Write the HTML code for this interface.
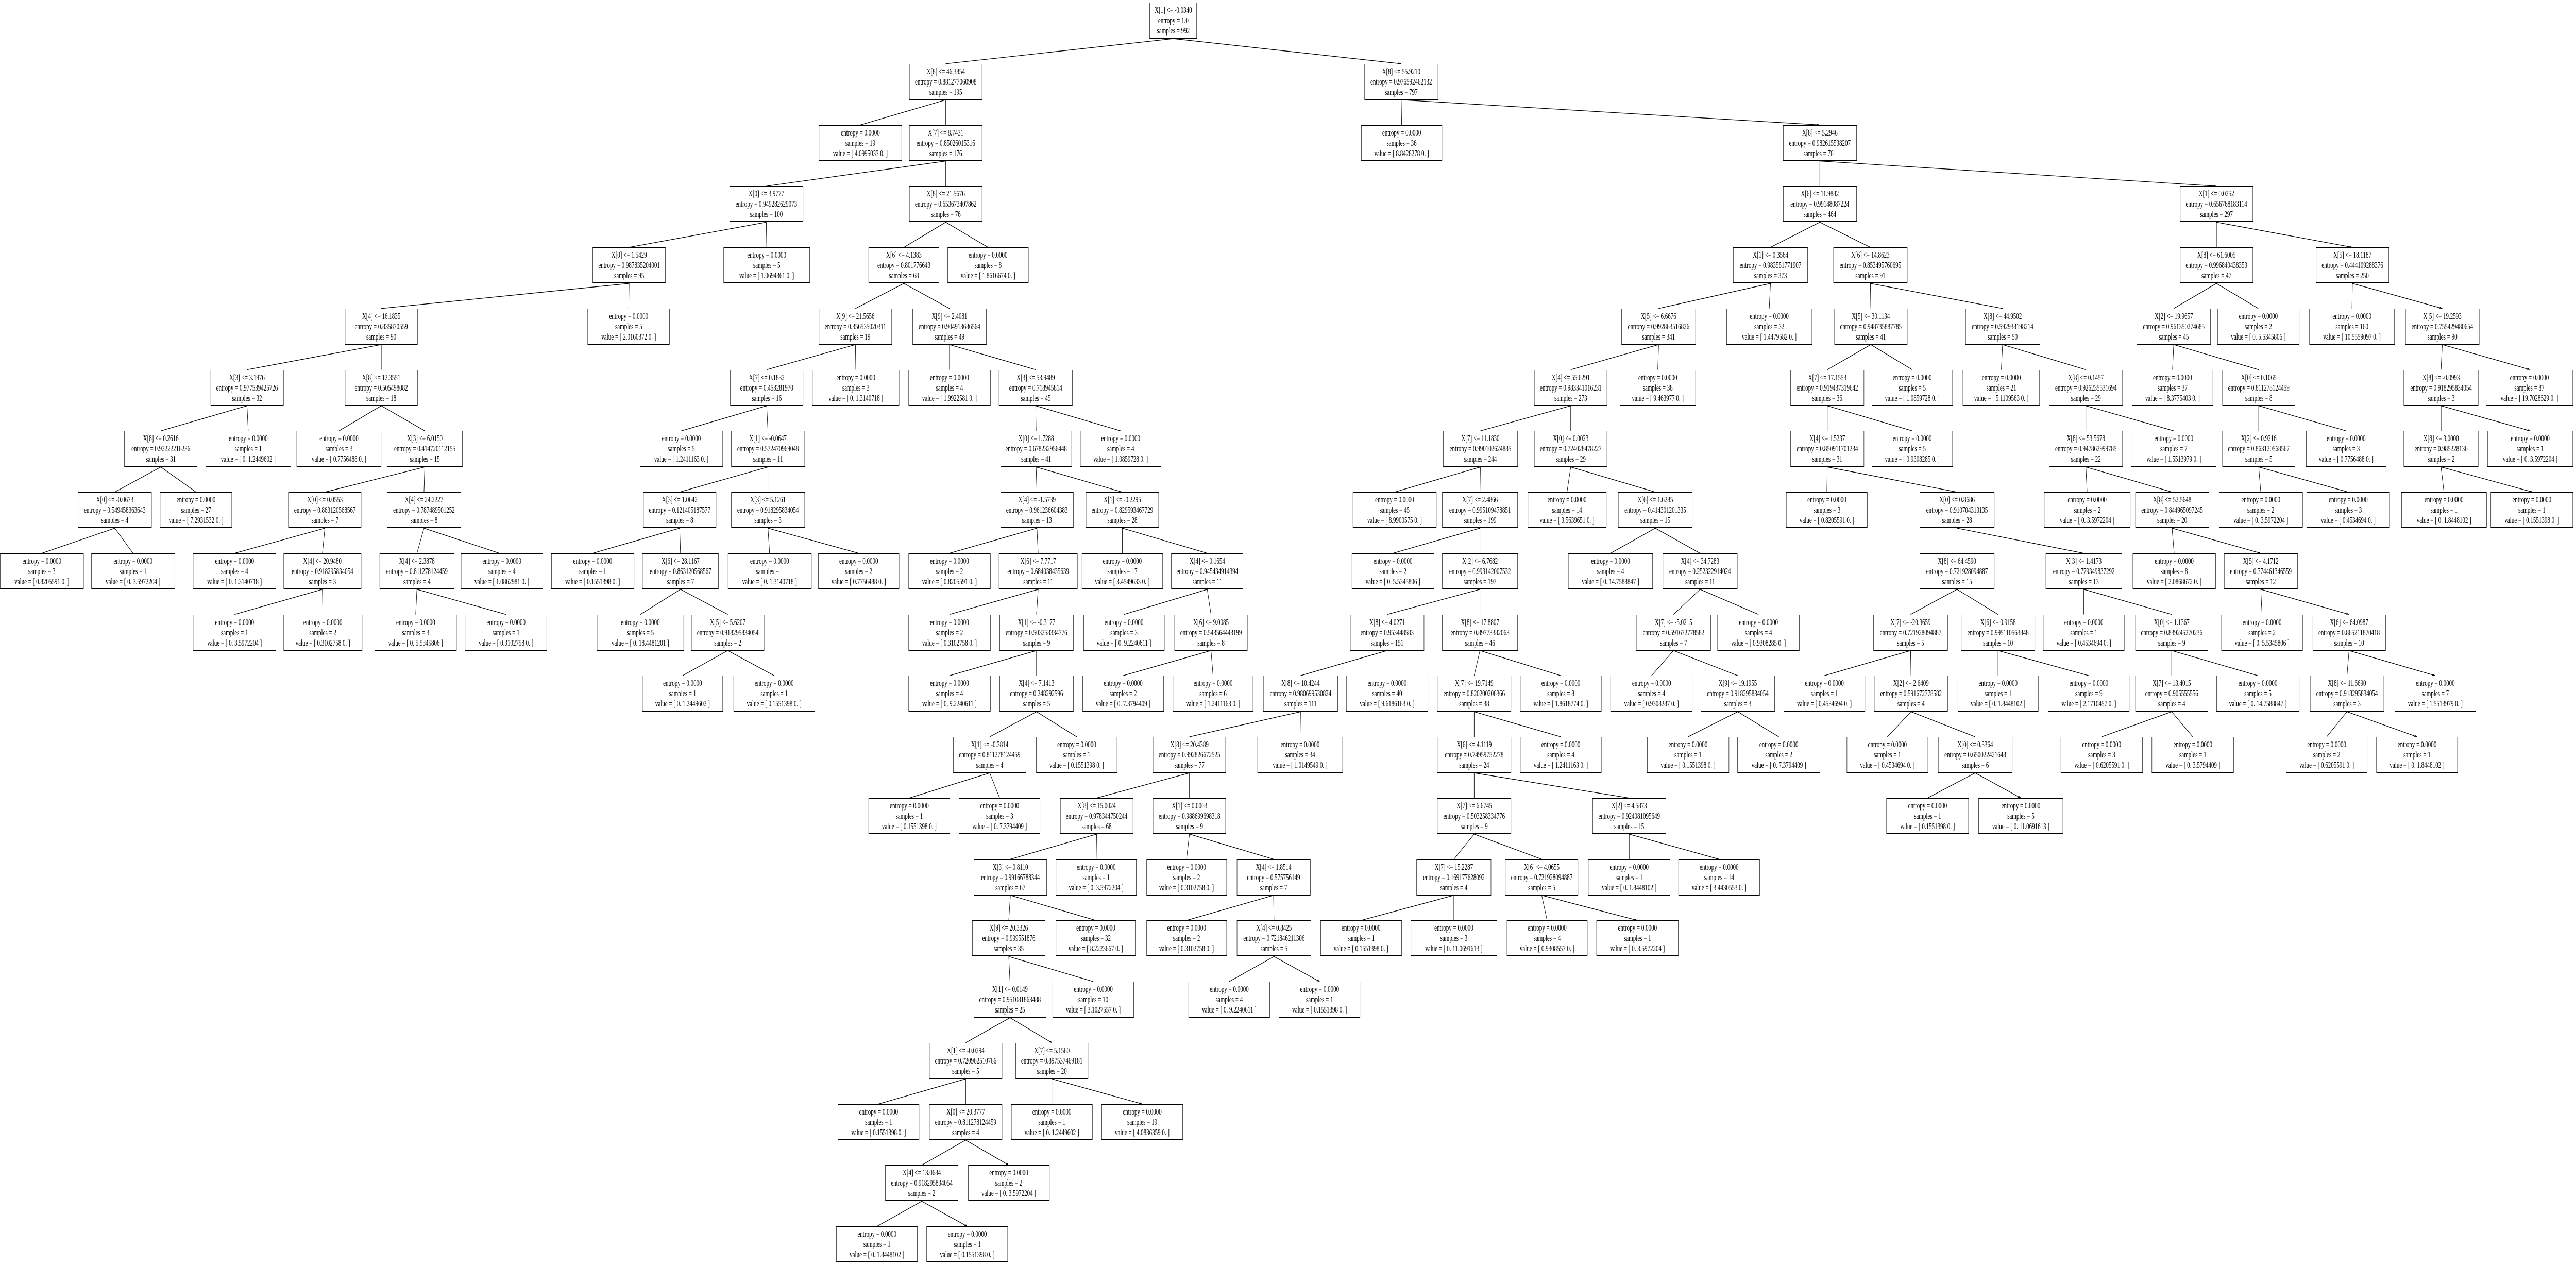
<!DOCTYPE html>
<html><head><meta charset="utf-8"><style>
html,body{margin:0;padding:0;background:#fff;width:100%;height:100%;overflow:hidden;}
#outer{display:block;position:absolute;left:0;top:0;width:100vw;height:100vh;}
#c{position:relative;width:7729px;height:2455px;overflow:hidden;background:#fff;}
#c svg{position:absolute;left:0;top:0;}
.n{position:absolute;left:calc(var(--a) * 2.487px);width:calc((var(--b) - var(--a)) * 2.487px);top:calc(var(--r) * 118.75px + 5px);height:70px;box-sizing:border-box;border:1.3px solid #000;border-bottom-width:2px;border-right-width:1.6px;background:#fff;font-family:"Liberation Serif",serif;font-size:17px;line-height:20px;text-align:center;white-space:nowrap;padding-top:4px;color:#000;overflow:hidden;}
</style></head><body>
<svg id="outer" viewBox="0 0 7729 2455" preserveAspectRatio="none" xmlns="http://www.w3.org/2000/svg"><foreignObject x="0" y="0" width="7729" height="2455"><div xmlns="http://www.w3.org/1999/xhtml" id="c">
<svg width="7729" height="2455" viewBox="0 0 3107.8 2455" preserveAspectRatio="none">
<defs><marker id="ah" markerUnits="userSpaceOnUse" viewBox="0 0 10 10" markerWidth="10" markerHeight="3.6" refX="10" refY="5" orient="auto"><path d="M0,0 L10,5 L0,10 z" fill="#000"/></marker></defs>
<g stroke="#000" stroke-width="1.3" fill="none" marker-end="url(#ah)">
<path vector-effect="non-scaling-stroke" d="M1415.5,75L1141,123.75M1415.5,75L1690.5,123.75"/>
<path vector-effect="non-scaling-stroke" d="M1141,193.75L1038,242.5M1141,193.75L1141,242.5M1690.5,193.75L1691,242.5M1690.5,193.75L2195.5,242.5"/>
<path vector-effect="non-scaling-stroke" d="M1141,312.5L924.5,361.25M1141,312.5L1141,361.25M2195.5,312.5L2195.5,361.25M2195.5,312.5L2674,361.25"/>
<path vector-effect="non-scaling-stroke" d="M924.5,431.25L759,480M924.5,431.25L925,480M1141,431.25L1090.5,480M1141,431.25L1192,480M2195.5,431.25L2136,480M2195.5,431.25L2256.5,480M2674,431.25L2674,480M2674,431.25L2838,480"/>
<path vector-effect="non-scaling-stroke" d="M759,550L460,598.75M759,550L758.5,598.75M1090.5,550L1032,598.75M1090.5,550L1145.5,598.75M2136,550L2001,598.75M2136,550L2134.5,598.75M2256.5,550L2257,598.75M2256.5,550L2416,598.75M2674,550L2622.5,598.75M2674,550L2724.5,598.75M2838,550L2837.5,598.75M2838,550L2946.5,598.75"/>
<path vector-effect="non-scaling-stroke" d="M460,668.75L298,717.5M460,668.75L460,717.5M1032,668.75L925,717.5M1032,668.75L1032.5,717.5M1145.5,668.75L1145.5,717.5M1145.5,668.75L1249.5,717.5M2001,668.75L1895,717.5M2001,668.75L2000,717.5M2257,668.75L2204.5,717.5M2257,668.75L2307,717.5M2416,668.75L2414.5,717.5M2416,668.75L2516.5,717.5M2622.5,668.75L2621,717.5M2622.5,668.75L2725,717.5M2946.5,668.75L2945,717.5M2946.5,668.75L3052.5,717.5"/>
<path vector-effect="non-scaling-stroke" d="M298,787.5L194,836.25M298,787.5L299.5,836.25M460,787.5L409,836.25M460,787.5L512.5,836.25M925,787.5L822,836.25M925,787.5L926.5,836.25M1249.5,787.5L1250,836.25M1249.5,787.5L1352,836.25M1895,787.5L1786,836.25M1895,787.5L1895,836.25M2204.5,787.5L2204.5,836.25M2204.5,787.5L2307,836.25M2516.5,787.5L2516.5,836.25M2516.5,787.5L2622.5,836.25M2725,787.5L2725,836.25M2725,787.5L2830.5,836.25M2945,787.5L2945,836.25M2945,787.5L3052.5,836.25"/>
<path vector-effect="non-scaling-stroke" d="M194,906.25L138.5,955M194,906.25L236.5,955M512.5,906.25L392,955M512.5,906.25L511.5,955M926.5,906.25L820,955M926.5,906.25L926.5,955M1250,906.25L1251,955M1250,906.25L1354,955M1786,906.25L1682.5,955M1786,906.25L1785.5,955M1895,906.25L1890.5,955M1895,906.25L1997,955M2204.5,906.25L2204,955M2204.5,906.25L2361,955M2516.5,906.25L2518,955M2516.5,906.25L2620.5,955M2725,906.25L2727.5,955M2725,906.25L2833,955M2945,906.25L2948.5,955M2945,906.25L3055.5,955"/>
<path vector-effect="non-scaling-stroke" d="M138.5,1025L50.5,1073.75M138.5,1025L160.5,1073.75M392,1025L283,1073.75M392,1025L389,1073.75M511.5,1025L503,1073.75M511.5,1025L602.5,1073.75M820,1025L715,1073.75M820,1025L821,1073.75M926.5,1025L928.5,1073.75M926.5,1025L1036,1073.75M1251,1025L1145.5,1073.75M1251,1025L1252.5,1073.75M1354,1025L1354,1073.75M1354,1025L1456.5,1073.75M1785.5,1025L1680.5,1073.75M1785.5,1025L1785.5,1073.75M1997,1025L1943,1073.75M1997,1025L2051,1073.75M2361,1025L2361,1073.75M2361,1025L2514,1073.75M2620.5,1025L2623,1073.75M2620.5,1025L2727.5,1073.75"/>
<path vector-effect="non-scaling-stroke" d="M389,1143.75L283,1192.5M389,1143.75L389.5,1192.5M503,1143.75L501.5,1192.5M503,1143.75L610.5,1192.5M821,1143.75L772.5,1192.5M821,1143.75L878,1192.5M1252.5,1143.75L1145.5,1192.5M1252.5,1143.75L1250.5,1192.5M1456.5,1143.75L1356,1192.5M1456.5,1143.75L1461,1192.5M1785.5,1143.75L1673.5,1192.5M1785.5,1143.75L1785.5,1192.5M2051,1143.75L2019,1192.5M2051,1143.75L2121.5,1192.5M2361,1143.75L2305,1192.5M2361,1143.75L2410.5,1192.5M2514,1143.75L2514,1192.5M2514,1143.75L2620,1192.5M2727.5,1143.75L2729,1192.5M2727.5,1143.75L2834,1192.5"/>
<path vector-effect="non-scaling-stroke" d="M878,1262.5L823.5,1311.25M878,1262.5L934,1311.25M1250.5,1262.5L1145.5,1311.25M1250.5,1262.5L1250.5,1311.25M1461,1262.5L1355,1311.25M1461,1262.5L1463.5,1311.25M1673.5,1262.5L1569,1311.25M1673.5,1262.5L1673.5,1311.25M1785.5,1262.5L1778.5,1311.25M1785.5,1262.5L1883,1311.25M2019,1262.5L1992.5,1311.25M2019,1262.5L2096.5,1311.25M2305,1262.5L2201,1311.25M2305,1262.5L2305.5,1311.25M2410.5,1262.5L2410.5,1311.25M2410.5,1262.5L2520,1311.25M2620,1262.5L2620,1311.25M2620,1262.5L2724,1311.25M2834,1262.5L2831.5,1311.25M2834,1262.5L2938,1311.25"/>
<path vector-effect="non-scaling-stroke" d="M1250.5,1381.25L1194,1430M1250.5,1381.25L1299,1430M1569,1381.25L1435,1430M1569,1381.25L1568.5,1430M1778.5,1381.25L1778.5,1430M1778.5,1381.25L1883,1430M2096.5,1381.25L2036.5,1430M2096.5,1381.25L2146,1430M2305.5,1381.25L2277,1430M2305.5,1381.25L2383,1430M2620,1381.25L2535.5,1430M2620,1381.25L2645.5,1430M2831.5,1381.25L2807,1430M2831.5,1381.25L2916,1430"/>
<path vector-effect="non-scaling-stroke" d="M1194,1500L1097,1548.75M1194,1500L1206,1548.75M1435,1500L1323,1548.75M1435,1500L1435,1548.75M1778.5,1500L1778.5,1548.75M1778.5,1500L1965.5,1548.75M2383,1500L2325.5,1548.75M2383,1500L2438,1548.75"/>
<path vector-effect="non-scaling-stroke" d="M1323,1618.75L1219,1667.5M1323,1618.75L1322.5,1667.5M1435,1618.75L1431.5,1667.5M1435,1618.75L1536.5,1667.5M1778.5,1618.75L1754,1667.5M1778.5,1618.75L1860,1667.5M1965.5,1618.75L1965.5,1667.5M1965.5,1618.75L2074,1667.5"/>
<path vector-effect="non-scaling-stroke" d="M1219,1737.5L1217,1786.25M1219,1737.5L1322,1786.25M1536.5,1737.5L1431.5,1786.25M1536.5,1737.5L1537,1786.25M1754,1737.5L1642,1786.25M1754,1737.5L1754,1786.25M1860,1737.5L1866.5,1786.25M1860,1737.5L1975.5,1786.25"/>
<path vector-effect="non-scaling-stroke" d="M1217,1856.25L1218.5,1905M1217,1856.25L1319,1905M1537,1856.25L1483,1905M1537,1856.25L1592,1905"/>
<path vector-effect="non-scaling-stroke" d="M1218.5,1975L1165,2023.75M1218.5,1975L1269,2023.75"/>
<path vector-effect="non-scaling-stroke" d="M1165,2093.75L1060,2142.5M1165,2093.75L1165,2142.5M1269,2093.75L1269,2142.5M1269,2093.75L1378,2142.5"/>
<path vector-effect="non-scaling-stroke" d="M1165,2212.5L1112,2261.25M1165,2212.5L1217,2261.25"/>
<path vector-effect="non-scaling-stroke" d="M1112,2331.25L1058,2380M1112,2331.25L1167,2380"/>
</g></svg>

<div class="n" style="--a:1387;--b:1444;--r:0">X[1] &lt;= -0.0340<br/>entropy = 1.0<br/>samples = 992</div>
<div class="n" style="--a:1097;--b:1185;--r:1">X[8] &lt;= 46.3854<br/>entropy = 0.881277060908<br/>samples = 195</div>
<div class="n" style="--a:1646;--b:1735;--r:1">X[8] &lt;= 55.9210<br/>entropy = 0.976592462132<br/>samples = 797</div>

<div class="n" style="--a:988;--b:1088;--r:2">entropy = 0.0000<br/>samples = 19<br/>value = [ 4.0995033  0. ]</div>
<div class="n" style="--a:1097;--b:1185;--r:2">X[7] &lt;= 8.7431<br/>entropy = 0.85026015316<br/>samples = 176</div>
<div class="n" style="--a:1642;--b:1740;--r:2">entropy = 0.0000<br/>samples = 36<br/>value = [ 8.8428278  0. ]</div>
<div class="n" style="--a:2151;--b:2240;--r:2">X[8] &lt;= 5.2946<br/>entropy = 0.982615538207<br/>samples = 761</div>

<div class="n" style="--a:880;--b:969;--r:3">X[0] &lt;= 3.9777<br/>entropy = 0.949282629073<br/>samples = 100</div>
<div class="n" style="--a:1097;--b:1185;--r:3">X[8] &lt;= 21.5676<br/>entropy = 0.653673407862<br/>samples = 76</div>
<div class="n" style="--a:2151;--b:2240;--r:3">X[6] &lt;= 11.9882<br/>entropy = 0.99148087224<br/>samples = 464</div>
<div class="n" style="--a:2630;--b:2718;--r:3">X[1] &lt;= 0.0252<br/>entropy = 0.656768183114<br/>samples = 297</div>

<div class="n" style="--a:715;--b:803;--r:4">X[0] &lt;= 1.5429<br/>entropy = 0.987835204001<br/>samples = 95</div>
<div class="n" style="--a:873;--b:977;--r:4">entropy = 0.0000<br/>samples = 5<br/>value = [ 1.0694361  0. ]</div>
<div class="n" style="--a:1048;--b:1133;--r:4">X[6] &lt;= 4.1383<br/>entropy = 0.801776643<br/>samples = 68</div>
<div class="n" style="--a:1143;--b:1241;--r:4">entropy = 0.0000<br/>samples = 8<br/>value = [ 1.8616674  0. ]</div>
<div class="n" style="--a:2091;--b:2181;--r:4">X[1] &lt;= 0.3564<br/>entropy = 0.983551771907<br/>samples = 373</div>
<div class="n" style="--a:2212;--b:2301;--r:4">X[6] &lt;= 14.8623<br/>entropy = 0.853495760695<br/>samples = 91</div>
<div class="n" style="--a:2630;--b:2718;--r:4">X[8] &lt;= 61.6005<br/>entropy = 0.996840438353<br/>samples = 47</div>
<div class="n" style="--a:2794;--b:2882;--r:4">X[5] &lt;= 18.1187<br/>entropy = 0.444109288376<br/>samples = 250</div>

<div class="n" style="--a:416;--b:504;--r:5">X[4] &lt;= 16.1835<br/>entropy = 0.835870559<br/>samples = 90</div>
<div class="n" style="--a:709;--b:808;--r:5">entropy = 0.0000<br/>samples = 5<br/>value = [ 2.0160372  0. ]</div>
<div class="n" style="--a:988;--b:1076;--r:5">X[9] &lt;= 21.5656<br/>entropy = 0.356535020311<br/>samples = 19</div>
<div class="n" style="--a:1101;--b:1190;--r:5">X[9] &lt;= 2.4081<br/>entropy = 0.904913686564<br/>samples = 49</div>
<div class="n" style="--a:1956;--b:2046;--r:5">X[5] &lt;= 6.6676<br/>entropy = 0.992863516826<br/>samples = 341</div>
<div class="n" style="--a:2083;--b:2186;--r:5">entropy = 0.0000<br/>samples = 32<br/>value = [ 1.4479582  0. ]</div>
<div class="n" style="--a:2213;--b:2301;--r:5">X[5] &lt;= 30.1134<br/>entropy = 0.948735887785<br/>samples = 41</div>
<div class="n" style="--a:2371;--b:2461;--r:5">X[8] &lt;= 44.9502<br/>entropy = 0.592938198214<br/>samples = 50</div>
<div class="n" style="--a:2578;--b:2667;--r:5">X[2] &lt;= 19.9657<br/>entropy = 0.961350274685<br/>samples = 45</div>
<div class="n" style="--a:2675;--b:2774;--r:5">entropy = 0.0000<br/>samples = 2<br/>value = [ 0.  5.5345806 ]</div>
<div class="n" style="--a:2786;--b:2889;--r:5">entropy = 0.0000<br/>samples = 160<br/>value = [ 10.5559097  0. ]</div>
<div class="n" style="--a:2902;--b:2991;--r:5">X[5] &lt;= 19.2593<br/>entropy = 0.755429480654<br/>samples = 90</div>

<div class="n" style="--a:254;--b:342;--r:6">X[3] &lt;= 3.1976<br/>entropy = 0.977539425726<br/>samples = 32</div>
<div class="n" style="--a:416;--b:504;--r:6">X[8] &lt;= 12.3551<br/>entropy = 0.505498082<br/>samples = 18</div>
<div class="n" style="--a:881;--b:969;--r:6">X[7] &lt;= 0.1832<br/>entropy = 0.453281970<br/>samples = 16</div>
<div class="n" style="--a:980;--b:1085;--r:6">entropy = 0.0000<br/>samples = 3<br/>value = [ 0.  1.3140718 ]</div>
<div class="n" style="--a:1096;--b:1195;--r:6">entropy = 0.0000<br/>samples = 4<br/>value = [ 1.9922581  0. ]</div>
<div class="n" style="--a:1205;--b:1294;--r:6">X[3] &lt;= 53.9489<br/>entropy = 0.718945814<br/>samples = 45</div>
<div class="n" style="--a:1851;--b:1939;--r:6">X[4] &lt;= 55.6291<br/>entropy = 0.983341016231<br/>samples = 273</div>
<div class="n" style="--a:1954;--b:2046;--r:6">entropy = 0.0000<br/>samples = 38<br/>value = [ 9.463977  0. ]</div>
<div class="n" style="--a:2160;--b:2249;--r:6">X[7] &lt;= 17.1553<br/>entropy = 0.919437319642<br/>samples = 36</div>
<div class="n" style="--a:2258;--b:2356;--r:6">entropy = 0.0000<br/>samples = 5<br/>value = [ 1.0859728  0. ]</div>
<div class="n" style="--a:2368;--b:2461;--r:6">entropy = 0.0000<br/>samples = 21<br/>value = [ 5.1109563  0. ]</div>
<div class="n" style="--a:2472;--b:2561;--r:6">X[8] &lt;= 0.1457<br/>entropy = 0.926235531694<br/>samples = 29</div>
<div class="n" style="--a:2572;--b:2670;--r:6">entropy = 0.0000<br/>samples = 37<br/>value = [ 8.3775403  0. ]</div>
<div class="n" style="--a:2681;--b:2769;--r:6">X[0] &lt;= 0.1065<br/>entropy = 0.811278124459<br/>samples = 8</div>
<div class="n" style="--a:2900;--b:2990;--r:6">X[8] &lt;= -0.0993<br/>entropy = 0.918295834054<br/>samples = 3</div>
<div class="n" style="--a:2999;--b:3104;--r:6">entropy = 0.0000<br/>samples = 87<br/>value = [ 19.7028629  0. ]</div>

<div class="n" style="--a:150;--b:238;--r:7">X[8] &lt;= 0.2616<br/>entropy = 0.92222216236<br/>samples = 31</div>
<div class="n" style="--a:248;--b:351;--r:7">entropy = 0.0000<br/>samples = 1<br/>value = [ 0.  1.2449602 ]</div>
<div class="n" style="--a:358;--b:460;--r:7">entropy = 0.0000<br/>samples = 3<br/>value = [ 0.7756488  0. ]</div>
<div class="n" style="--a:467;--b:558;--r:7">X[3] &lt;= 6.0150<br/>entropy = 0.414720112155<br/>samples = 15</div>
<div class="n" style="--a:772;--b:872;--r:7">entropy = 0.0000<br/>samples = 5<br/>value = [ 1.2411163  0. ]</div>
<div class="n" style="--a:882;--b:971;--r:7">X[1] &lt;= -0.0647<br/>entropy = 0.572470969048<br/>samples = 11</div>
<div class="n" style="--a:1207;--b:1293;--r:7">X[0] &lt;= 1.7288<br/>entropy = 0.678232956448<br/>samples = 41</div>
<div class="n" style="--a:1303;--b:1401;--r:7">entropy = 0.0000<br/>samples = 4<br/>value = [ 1.0859728  0. ]</div>
<div class="n" style="--a:1741;--b:1831;--r:7">X[7] &lt;= 11.1830<br/>entropy = 0.990102624885<br/>samples = 244</div>
<div class="n" style="--a:1851;--b:1939;--r:7">X[0] &lt;= 0.0023<br/>entropy = 0.724028478227<br/>samples = 29</div>
<div class="n" style="--a:2160;--b:2249;--r:7">X[4] &lt;= 1.5237<br/>entropy = 0.850911701234<br/>samples = 31</div>
<div class="n" style="--a:2258;--b:2356;--r:7">entropy = 0.0000<br/>samples = 5<br/>value = [ 0.9308285  0. ]</div>
<div class="n" style="--a:2472;--b:2561;--r:7">X[8] &lt;= 53.5678<br/>entropy = 0.947862999785<br/>samples = 22</div>
<div class="n" style="--a:2571;--b:2674;--r:7">entropy = 0.0000<br/>samples = 7<br/>value = [ 1.5513979  0. ]</div>
<div class="n" style="--a:2681;--b:2769;--r:7">X[2] &lt;= 0.9216<br/>entropy = 0.863120568567<br/>samples = 5</div>
<div class="n" style="--a:2782;--b:2879;--r:7">entropy = 0.0000<br/>samples = 3<br/>value = [ 0.7756488  0. ]</div>
<div class="n" style="--a:2900;--b:2990;--r:7">X[8] &lt;= 3.0000<br/>entropy = 0.985228136<br/>samples = 2</div>
<div class="n" style="--a:3001;--b:3104;--r:7">entropy = 0.0000<br/>samples = 1<br/>value = [ 0.  3.5972204 ]</div>

<div class="n" style="--a:94;--b:183;--r:8">X[0] &lt;= -0.0673<br/>entropy = 0.549458363643<br/>samples = 4</div>
<div class="n" style="--a:193;--b:280;--r:8">entropy = 0.0000<br/>samples = 27<br/>value = [ 7.2931532  0. ]</div>
<div class="n" style="--a:348;--b:436;--r:8">X[0] &lt;= 0.0553<br/>entropy = 0.863120568567<br/>samples = 7</div>
<div class="n" style="--a:467;--b:556;--r:8">X[4] &lt;= 24.2227<br/>entropy = 0.787489501252<br/>samples = 8</div>
<div class="n" style="--a:776;--b:864;--r:8">X[3] &lt;= 1.0642<br/>entropy = 0.121405187577<br/>samples = 8</div>
<div class="n" style="--a:882;--b:971;--r:8">X[3] &lt;= 5.1261<br/>entropy = 0.918295834054<br/>samples = 3</div>
<div class="n" style="--a:1207;--b:1295;--r:8">X[4] &lt;= -1.5739<br/>entropy = 0.961236604383<br/>samples = 13</div>
<div class="n" style="--a:1310;--b:1398;--r:8">X[1] &lt;= -0.2295<br/>entropy = 0.829593467729<br/>samples = 28</div>
<div class="n" style="--a:1632;--b:1733;--r:8">entropy = 0.0000<br/>samples = 45<br/>value = [ 8.9900575  0. ]</div>
<div class="n" style="--a:1740;--b:1831;--r:8">X[7] &lt;= 2.4866<br/>entropy = 0.995109478851<br/>samples = 199</div>
<div class="n" style="--a:1843;--b:1938;--r:8">entropy = 0.0000<br/>samples = 14<br/>value = [ 3.5639651  0. ]</div>
<div class="n" style="--a:1952;--b:2042;--r:8">X[6] &lt;= 1.6285<br/>entropy = 0.414301201335<br/>samples = 15</div>
<div class="n" style="--a:2155;--b:2253;--r:8">entropy = 0.0000<br/>samples = 3<br/>value = [ 0.8205591  0. ]</div>
<div class="n" style="--a:2316;--b:2406;--r:8">X[0] &lt;= 0.8686<br/>entropy = 0.910704313135<br/>samples = 28</div>
<div class="n" style="--a:2466;--b:2570;--r:8">entropy = 0.0000<br/>samples = 2<br/>value = [ 0.  3.5972204 ]</div>
<div class="n" style="--a:2576;--b:2665;--r:8">X[8] &lt;= 52.5648<br/>entropy = 0.844965097245<br/>samples = 20</div>
<div class="n" style="--a:2677;--b:2778;--r:8">entropy = 0.0000<br/>samples = 2<br/>value = [ 0.  3.5972204 ]</div>
<div class="n" style="--a:2783;--b:2883;--r:8">entropy = 0.0000<br/>samples = 3<br/>value = [ 0.4534694  0. ]</div>
<div class="n" style="--a:2897;--b:3000;--r:8">entropy = 0.0000<br/>samples = 1<br/>value = [ 0.  1.8448102 ]</div>
<div class="n" style="--a:3005;--b:3104;--r:8">entropy = 0.0000<br/>samples = 1<br/>value = [ 0.1551398  0. ]</div>

<div class="n" style="--a:0;--b:101;--r:9">entropy = 0.0000<br/>samples = 3<br/>value = [ 0.8205591  0. ]</div>
<div class="n" style="--a:110;--b:211;--r:9">entropy = 0.0000<br/>samples = 1<br/>value = [ 0.  3.5972204 ]</div>
<div class="n" style="--a:233;--b:333;--r:9">entropy = 0.0000<br/>samples = 4<br/>value = [ 0.  1.3140718 ]</div>
<div class="n" style="--a:342;--b:436;--r:9">X[4] &lt;= 20.9480<br/>entropy = 0.918295834054<br/>samples = 3</div>
<div class="n" style="--a:458;--b:548;--r:9">X[4] &lt;= 2.3878<br/>entropy = 0.811278124459<br/>samples = 4</div>
<div class="n" style="--a:556;--b:655;--r:9">entropy = 0.0000<br/>samples = 4<br/>value = [ 1.0862981  0. ]</div>
<div class="n" style="--a:665;--b:765;--r:9">entropy = 0.0000<br/>samples = 1<br/>value = [ 0.1551398  0. ]</div>
<div class="n" style="--a:775;--b:867;--r:9">X[6] &lt;= 28.1167<br/>entropy = 0.863120568567<br/>samples = 7</div>
<div class="n" style="--a:878;--b:979;--r:9">entropy = 0.0000<br/>samples = 1<br/>value = [ 0.  1.3140718 ]</div>
<div class="n" style="--a:987;--b:1085;--r:9">entropy = 0.0000<br/>samples = 2<br/>value = [ 0.7756488  0. ]</div>
<div class="n" style="--a:1096;--b:1195;--r:9">entropy = 0.0000<br/>samples = 2<br/>value = [ 0.8205591  0. ]</div>
<div class="n" style="--a:1205;--b:1300;--r:9">X[6] &lt;= 7.7717<br/>entropy = 0.684038435639<br/>samples = 11</div>
<div class="n" style="--a:1305;--b:1403;--r:9">entropy = 0.0000<br/>samples = 17<br/>value = [ 3.4549633  0. ]</div>
<div class="n" style="--a:1413;--b:1500;--r:9">X[4] &lt;= 0.1654<br/>entropy = 0.945434914394<br/>samples = 11</div>
<div class="n" style="--a:1631;--b:1730;--r:9">entropy = 0.0000<br/>samples = 2<br/>value = [ 0.  5.5345806 ]</div>
<div class="n" style="--a:1740;--b:1831;--r:9">X[2] &lt;= 6.7682<br/>entropy = 0.993142007532<br/>samples = 197</div>
<div class="n" style="--a:1892;--b:1994;--r:9">entropy = 0.0000<br/>samples = 4<br/>value = [ 0.  14.7588847 ]</div>
<div class="n" style="--a:2006;--b:2096;--r:9">X[4] &lt;= 34.7283<br/>entropy = 0.252322914024<br/>samples = 11</div>
<div class="n" style="--a:2316;--b:2406;--r:9">X[8] &lt;= 64.4590<br/>entropy = 0.721928094887<br/>samples = 15</div>
<div class="n" style="--a:2468;--b:2560;--r:9">X[3] &lt;= 1.4173<br/>entropy = 0.779349837292<br/>samples = 13</div>
<div class="n" style="--a:2573;--b:2673;--r:9">entropy = 0.0000<br/>samples = 8<br/>value = [ 2.0868672  0. ]</div>
<div class="n" style="--a:2683;--b:2772;--r:9">X[5] &lt;= 4.1712<br/>entropy = 0.774461346559<br/>samples = 12</div>

<div class="n" style="--a:233;--b:333;--r:10">entropy = 0.0000<br/>samples = 1<br/>value = [ 0.  3.5972204 ]</div>
<div class="n" style="--a:342;--b:437;--r:10">entropy = 0.0000<br/>samples = 2<br/>value = [ 0.3102758  0. ]</div>
<div class="n" style="--a:452;--b:551;--r:10">entropy = 0.0000<br/>samples = 3<br/>value = [ 0.  5.5345806 ]</div>
<div class="n" style="--a:561;--b:660;--r:10">entropy = 0.0000<br/>samples = 1<br/>value = [ 0.3102758  0. ]</div>
<div class="n" style="--a:720;--b:825;--r:10">entropy = 0.0000<br/>samples = 5<br/>value = [ 0.  18.4481201 ]</div>
<div class="n" style="--a:834;--b:922;--r:10">X[5] &lt;= 5.6207<br/>entropy = 0.918295834054<br/>samples = 2</div>
<div class="n" style="--a:1096;--b:1195;--r:10">entropy = 0.0000<br/>samples = 2<br/>value = [ 0.3102758  0. ]</div>
<div class="n" style="--a:1206;--b:1295;--r:10">X[1] &lt;= -0.3177<br/>entropy = 0.503258334776<br/>samples = 9</div>
<div class="n" style="--a:1307;--b:1405;--r:10">entropy = 0.0000<br/>samples = 3<br/>value = [ 0.  9.2240611 ]</div>
<div class="n" style="--a:1417;--b:1505;--r:10">X[6] &lt;= 9.0085<br/>entropy = 0.543564443199<br/>samples = 8</div>
<div class="n" style="--a:1629;--b:1718;--r:10">X[8] &lt;= 4.0271<br/>entropy = 0.953448583<br/>samples = 151</div>
<div class="n" style="--a:1740;--b:1831;--r:10">X[8] &lt;= 17.8807<br/>entropy = 0.89773382063<br/>samples = 46</div>
<div class="n" style="--a:1974;--b:2064;--r:10">X[7] &lt;= -5.0215<br/>entropy = 0.591672778582<br/>samples = 7</div>
<div class="n" style="--a:2072;--b:2171;--r:10">entropy = 0.0000<br/>samples = 4<br/>value = [ 0.9308285  0. ]</div>
<div class="n" style="--a:2260;--b:2350;--r:10">X[7] &lt;= -20.3659<br/>entropy = 0.721928094887<br/>samples = 5</div>
<div class="n" style="--a:2366;--b:2455;--r:10">X[6] &lt;= 0.9158<br/>entropy = 0.995110563848<br/>samples = 10</div>
<div class="n" style="--a:2465;--b:2563;--r:10">entropy = 0.0000<br/>samples = 1<br/>value = [ 0.4534694  0. ]</div>
<div class="n" style="--a:2576;--b:2664;--r:10">X[0] &lt;= 1.1367<br/>entropy = 0.839245270236<br/>samples = 9</div>
<div class="n" style="--a:2680;--b:2778;--r:10">entropy = 0.0000<br/>samples = 2<br/>value = [ 0.  5.5345806 ]</div>
<div class="n" style="--a:2790;--b:2878;--r:10">X[6] &lt;= 64.0987<br/>entropy = 0.865211870418<br/>samples = 10</div>

<div class="n" style="--a:775;--b:872;--r:11">entropy = 0.0000<br/>samples = 1<br/>value = [ 0.  1.2449602 ]</div>
<div class="n" style="--a:885;--b:983;--r:11">entropy = 0.0000<br/>samples = 1<br/>value = [ 0.1551398  0. ]</div>
<div class="n" style="--a:1096;--b:1195;--r:11">entropy = 0.0000<br/>samples = 4<br/>value = [ 0.  9.2240611 ]</div>
<div class="n" style="--a:1206;--b:1295;--r:11">X[4] &lt;= 7.1413<br/>entropy = 0.248292596<br/>samples = 5</div>
<div class="n" style="--a:1306;--b:1404;--r:11">entropy = 0.0000<br/>samples = 2<br/>value = [ 0.  7.3794409 ]</div>
<div class="n" style="--a:1415;--b:1512;--r:11">entropy = 0.0000<br/>samples = 6<br/>value = [ 1.2411163  0. ]</div>
<div class="n" style="--a:1524;--b:1614;--r:11">X[8] &lt;= 10.4244<br/>entropy = 0.980699530824<br/>samples = 111</div>
<div class="n" style="--a:1624;--b:1723;--r:11">entropy = 0.0000<br/>samples = 40<br/>value = [ 9.6186163  0. ]</div>
<div class="n" style="--a:1734;--b:1823;--r:11">X[7] &lt;= 19.7149<br/>entropy = 0.820200206366<br/>samples = 38</div>
<div class="n" style="--a:1834;--b:1932;--r:11">entropy = 0.0000<br/>samples = 8<br/>value = [ 1.8618774  0. ]</div>
<div class="n" style="--a:1943;--b:2042;--r:11">entropy = 0.0000<br/>samples = 4<br/>value = [ 0.9308287  0. ]</div>
<div class="n" style="--a:2052;--b:2141;--r:11">X[9] &lt;= 19.1955<br/>entropy = 0.918295834054<br/>samples = 3</div>
<div class="n" style="--a:2152;--b:2250;--r:11">entropy = 0.0000<br/>samples = 1<br/>value = [ 0.4534694  0. ]</div>
<div class="n" style="--a:2261;--b:2350;--r:11">X[2] &lt;= 2.6409<br/>entropy = 0.591672778582<br/>samples = 4</div>
<div class="n" style="--a:2362;--b:2459;--r:11">entropy = 0.0000<br/>samples = 1<br/>value = [ 0.  1.8448102 ]</div>
<div class="n" style="--a:2471;--b:2569;--r:11">entropy = 0.0000<br/>samples = 9<br/>value = [ 2.1710457  0. ]</div>
<div class="n" style="--a:2576;--b:2664;--r:11">X[7] &lt;= 13.4015<br/>entropy = 0.905555556<br/>samples = 4</div>
<div class="n" style="--a:2674;--b:2774;--r:11">entropy = 0.0000<br/>samples = 5<br/>value = [ 0.  14.7588847 ]</div>
<div class="n" style="--a:2787;--b:2876;--r:11">X[8] &lt;= 11.6690<br/>entropy = 0.918295834054<br/>samples = 3</div>
<div class="n" style="--a:2889;--b:2987;--r:11">entropy = 0.0000<br/>samples = 7<br/>value = [ 1.5513979  0. ]</div>

<div class="n" style="--a:1150;--b:1238;--r:12">X[1] &lt;= -0.3814<br/>entropy = 0.811278124459<br/>samples = 4</div>
<div class="n" style="--a:1250;--b:1348;--r:12">entropy = 0.0000<br/>samples = 1<br/>value = [ 0.1551398  0. ]</div>
<div class="n" style="--a:1391;--b:1479;--r:12">X[8] &lt;= 20.4389<br/>entropy = 0.992826672525<br/>samples = 77</div>
<div class="n" style="--a:1517;--b:1620;--r:12">entropy = 0.0000<br/>samples = 34<br/>value = [ 1.0149549  0. ]</div>
<div class="n" style="--a:1734;--b:1823;--r:12">X[6] &lt;= 4.1119<br/>entropy = 0.74959752278<br/>samples = 24</div>
<div class="n" style="--a:1834;--b:1932;--r:12">entropy = 0.0000<br/>samples = 4<br/>value = [ 1.2411163  0. ]</div>
<div class="n" style="--a:1987;--b:2086;--r:12">entropy = 0.0000<br/>samples = 1<br/>value = [ 0.1551398  0. ]</div>
<div class="n" style="--a:2096;--b:2196;--r:12">entropy = 0.0000<br/>samples = 2<br/>value = [ 0.  7.3794409 ]</div>
<div class="n" style="--a:2228;--b:2326;--r:12">entropy = 0.0000<br/>samples = 1<br/>value = [ 0.4534694  0. ]</div>
<div class="n" style="--a:2338;--b:2428;--r:12">X[0] &lt;= 0.3364<br/>entropy = 0.650022421648<br/>samples = 6</div>
<div class="n" style="--a:2486;--b:2585;--r:12">entropy = 0.0000<br/>samples = 3<br/>value = [ 0.6205591  0. ]</div>
<div class="n" style="--a:2596;--b:2695;--r:12">entropy = 0.0000<br/>samples = 1<br/>value = [ 0.  3.5794409 ]</div>
<div class="n" style="--a:2758;--b:2856;--r:12">entropy = 0.0000<br/>samples = 2<br/>value = [ 0.6205591  0. ]</div>
<div class="n" style="--a:2867;--b:2965;--r:12">entropy = 0.0000<br/>samples = 1<br/>value = [ 0.  1.8448102 ]</div>

<div class="n" style="--a:1048;--b:1146;--r:13">entropy = 0.0000<br/>samples = 1<br/>value = [ 0.1551398  0. ]</div>
<div class="n" style="--a:1157;--b:1255;--r:13">entropy = 0.0000<br/>samples = 3<br/>value = [ 0.  7.3794409 ]</div>
<div class="n" style="--a:1279;--b:1367;--r:13">X[8] &lt;= 15.0024<br/>entropy = 0.978344750244<br/>samples = 68</div>
<div class="n" style="--a:1391;--b:1479;--r:13">X[1] &lt;= 0.0063<br/>entropy = 0.988699698318<br/>samples = 9</div>
<div class="n" style="--a:1734;--b:1823;--r:13">X[7] &lt;= 6.6745<br/>entropy = 0.503258334776<br/>samples = 9</div>
<div class="n" style="--a:1921;--b:2010;--r:13">X[2] &lt;= 4.5873<br/>entropy = 0.924081095649<br/>samples = 15</div>
<div class="n" style="--a:2276;--b:2375;--r:13">entropy = 0.0000<br/>samples = 1<br/>value = [ 0.1551398  0. ]</div>
<div class="n" style="--a:2387;--b:2489;--r:13">entropy = 0.0000<br/>samples = 5<br/>value = [ 0.  11.0691613 ]</div>

<div class="n" style="--a:1175;--b:1263;--r:14">X[3] &lt;= 0.8110<br/>entropy = 0.99166788344<br/>samples = 67</div>
<div class="n" style="--a:1274;--b:1371;--r:14">entropy = 0.0000<br/>samples = 1<br/>value = [ 0.  3.5972204 ]</div>
<div class="n" style="--a:1383;--b:1480;--r:14">entropy = 0.0000<br/>samples = 2<br/>value = [ 0.3102758  0. ]</div>
<div class="n" style="--a:1492;--b:1581;--r:14">X[4] &lt;= 1.8514<br/>entropy = 0.575756149<br/>samples = 7</div>
<div class="n" style="--a:1709;--b:1799;--r:14">X[7] &lt;= 15.2287<br/>entropy = 0.169177628092<br/>samples = 4</div>
<div class="n" style="--a:1816;--b:1904;--r:14">X[6] &lt;= 4.0655<br/>entropy = 0.721928094887<br/>samples = 5</div>
<div class="n" style="--a:1916;--b:2015;--r:14">entropy = 0.0000<br/>samples = 1<br/>value = [ 0.  1.8448102 ]</div>
<div class="n" style="--a:2025;--b:2123;--r:14">entropy = 0.0000<br/>samples = 14<br/>value = [ 3.4430553  0. ]</div>

<div class="n" style="--a:1173;--b:1261;--r:15">X[9] &lt;= 20.3326<br/>entropy = 0.999551876<br/>samples = 35</div>
<div class="n" style="--a:1274;--b:1370;--r:15">entropy = 0.0000<br/>samples = 32<br/>value = [ 8.2223667  0. ]</div>
<div class="n" style="--a:1383;--b:1480;--r:15">entropy = 0.0000<br/>samples = 2<br/>value = [ 0.3102758  0. ]</div>
<div class="n" style="--a:1492;--b:1582;--r:15">X[4] &lt;= 0.8425<br/>entropy = 0.721846211306<br/>samples = 5</div>
<div class="n" style="--a:1593;--b:1691;--r:15">entropy = 0.0000<br/>samples = 1<br/>value = [ 0.1551398  0. ]</div>
<div class="n" style="--a:1702;--b:1806;--r:15">entropy = 0.0000<br/>samples = 3<br/>value = [ 0.  11.0691613 ]</div>
<div class="n" style="--a:1818;--b:1915;--r:15">entropy = 0.0000<br/>samples = 4<br/>value = [ 0.9308557  0. ]</div>
<div class="n" style="--a:1926;--b:2025;--r:15">entropy = 0.0000<br/>samples = 1<br/>value = [ 0.  3.5972204 ]</div>

<div class="n" style="--a:1175;--b:1262;--r:16">X[1] &lt;= 0.0149<br/>entropy = 0.951081863488<br/>samples = 25</div>
<div class="n" style="--a:1270;--b:1368;--r:16">entropy = 0.0000<br/>samples = 10<br/>value = [ 3.1027557  0. ]</div>
<div class="n" style="--a:1434;--b:1532;--r:16">entropy = 0.0000<br/>samples = 4<br/>value = [ 0.  9.2240611 ]</div>
<div class="n" style="--a:1543;--b:1641;--r:16">entropy = 0.0000<br/>samples = 1<br/>value = [ 0.1551398  0. ]</div>

<div class="n" style="--a:1121;--b:1209;--r:17">X[1] &lt;= -0.0294<br/>entropy = 0.720962510766<br/>samples = 5</div>
<div class="n" style="--a:1225;--b:1313;--r:17">X[7] &lt;= 5.1560<br/>entropy = 0.897537469181<br/>samples = 20</div>

<div class="n" style="--a:1011;--b:1109;--r:18">entropy = 0.0000<br/>samples = 1<br/>value = [ 0.1551398  0. ]</div>
<div class="n" style="--a:1121;--b:1209;--r:18">X[0] &lt;= 20.3777<br/>entropy = 0.811278124459<br/>samples = 4</div>
<div class="n" style="--a:1220;--b:1318;--r:18">entropy = 0.0000<br/>samples = 1<br/>value = [ 0.  1.2449602 ]</div>
<div class="n" style="--a:1329;--b:1427;--r:18">entropy = 0.0000<br/>samples = 19<br/>value = [ 4.0836359  0. ]</div>

<div class="n" style="--a:1068;--b:1156;--r:19">X[4] &lt;= 13.0684<br/>entropy = 0.918295834054<br/>samples = 2</div>
<div class="n" style="--a:1168;--b:1266;--r:19">entropy = 0.0000<br/>samples = 2<br/>value = [ 0.  3.5972204 ]</div>

<div class="n" style="--a:1009;--b:1107;--r:20">entropy = 0.0000<br/>samples = 1<br/>value = [ 0.  1.8448102 ]</div>
<div class="n" style="--a:1118;--b:1216;--r:20">entropy = 0.0000<br/>samples = 1<br/>value = [ 0.1551398  0. ]</div>
</div></foreignObject></svg></body></html>
